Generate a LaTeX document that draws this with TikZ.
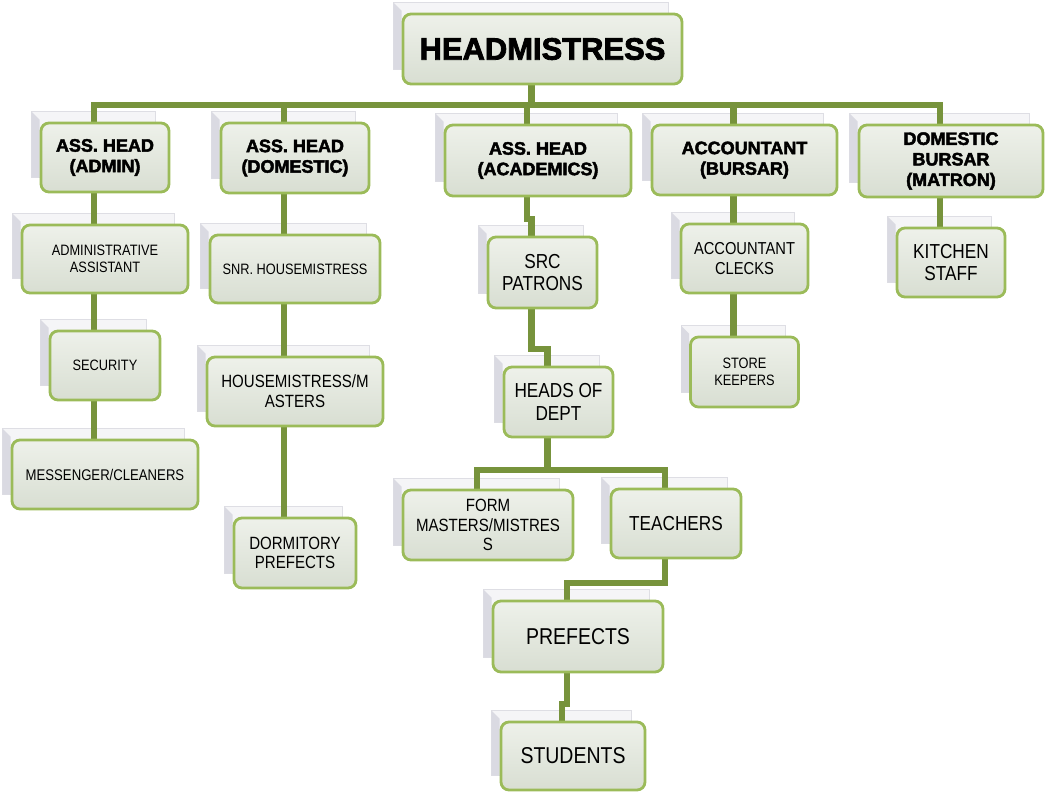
\documentclass[tikz,border=0pt]{standalone}
\usepackage{fontspec}
\setmainfont{Liberation Sans}
\newfontfamily\narrowfont[FakeStretch=0.85]{Liberation Sans}
\newfontfamily\heavyfont[FakeBold=2.5]{Liberation Sans Bold}
\usepackage{tikz}
\usetikzlibrary{calc,backgrounds}
\definecolor{linegreen}{HTML}{77933C}
\definecolor{boxgreen}{HTML}{9BBB59}
\definecolor{boxtop}{HTML}{EEF1EA}
\definecolor{boxbot}{HTML}{D8DED2}
\definecolor{sheetgray}{HTML}{F5F5F7}
\definecolor{sheetline}{HTML}{DEDEE4}
\definecolor{wedgegray}{HTML}{DADAE2}
\pgfdeclarelayer{back}
\pgfdeclarelayer{mid}
\pgfsetlayers{back,mid,main}
\tikzset{
  orgbox/.style={draw=boxgreen, line width=2pt, rounded corners=0.2cm,
    top color=boxtop, bottom color=boxbot, align=center, inner sep=2pt},
  wh/.style 2 args={minimum width=#1*0.025cm, minimum height=#2*0.025cm},
  link/.style={draw=linegreen, line width=4.3pt},
  off/.style={shift={(-11,0)}},
  topfont/.style={font=\heavyfont\fontsize{22}{25}\selectfont},
  hdr/.style={font=\heavyfont\fontsize{12.8}{14.6}\selectfont},
  szA/.style={font=\narrowfont\fontsize{10.7}{12.2}\selectfont},
  szB/.style={font=\narrowfont\fontsize{12.6}{14}\selectfont},
  szC/.style={font=\narrowfont\fontsize{14.4}{15.8}\selectfont},
  szD/.style={font=\narrowfont\fontsize{16.3}{18}\selectfont},
  sheet/.style={fill=sheetgray, draw=sheetline, line width=0.4pt},
  wedge/.style={fill=wedgegray}
}
\begin{document}
\begin{tikzpicture}[x=0.025cm, y=-0.025cm]
\useasboundingbox (0,0) rectangle (1047,791);

\node[orgbox, wh={279}{70}, topfont] (head) at (542.5,49) {HEADMISTRESS};

\node[orgbox, wh={128}{69}, hdr] (admin) at (105,157.5) {ASS. HEAD\\(ADMIN)};
\node[orgbox, wh={148}{70}, hdr] (dom) at (295,158) {ASS. HEAD\\(DOMESTIC)};
\node[orgbox, wh={186}{71}, hdr] (acad) at (538,160.5) {ASS. HEAD\\(ACADEMICS)};
\node[orgbox, wh={185}{70}, hdr] (bursar) at (744.5,160) {ACCOUNTANT\\(BURSAR)};
\node[orgbox, wh={184}{72}, hdr] (matron) at (951,161) {DOMESTIC\\BURSAR\\(MATRON)};

\node[orgbox, wh={166}{68}, szA] (asst) at (105,259) {ADMINISTRATIVE\\ASSISTANT};
\node[orgbox, wh={110}{69}, szA] (security) at (105,365.5) {SECURITY};
\node[orgbox, wh={186}{69}, font=\narrowfont\fontsize{11}{12.5}\selectfont] (mess) at (105,474.5) {MESSENGER/CLEANERS};

\node[orgbox, wh={170}{68}, szA] (snr) at (295,269) {SNR. HOUSEMISTRESS};
\node[orgbox, wh={176}{69}, szB] (house) at (295,391.5) {HOUSEMISTRESS/M\\ASTERS};
\node[orgbox, wh={122}{70}, szB] (dorm) at (295,553) {DORMITORY\\PREFECTS};

\node[orgbox, wh={109}{71}, szC] (src) at (542.5,272.5) {SRC\\PATRONS};
\node[orgbox, wh={109}{70}, szC] (hod) at (558.5,402) {HEADS OF\\DEPT};
\node[orgbox, wh={170}{70}, szB] (form) at (488,525) {FORM\\MASTERS/MISTRES\\S};
\node[orgbox, wh={130}{69}, szC] (teach) at (676,523.5) {TEACHERS};
\node[orgbox, wh={170}{71}, szD] (pref) at (578,636.5) {PREFECTS};
\node[orgbox, wh={144}{68}, szD] (stud) at (573,756) {STUDENTS};

\node[orgbox, wh={127}{69}, font=\narrowfont\fontsize{12.3}{13.8}\selectfont] (clerks) at (744.5,258.5) {ACCOUNTANT\\CLECKS};
\node[orgbox, wh={108}{70}, szA] (store) at (744.5,372) {STORE\\KEEPERS};
\node[orgbox, wh={108}{69}, szC] (kitchen) at (951,262.5) {KITCHEN\\STAFF};

% paper sheets behind the boxes
\begin{pgfonlayer}{back}
\foreach \n in {head,admin,dom,acad,bursar,matron,asst,security,mess,snr,house,dorm,src,hod,form,teach,pref,stud,clerks,store,kitchen}{
  \draw[sheet] ($(\n.north west)+(-8,-10)$) rectangle ($(\n.south east)+(-15,-16)$);
  \fill[wedge] ($(\n.north west)+(-8,-10)$) -- ($(\n.north west)+(0,-2)$)
    -- ($(\n.south west)+(0,-16)$) -- ($(\n.south west)+(-8,-16)$) -- cycle;
}
\end{pgfonlayer}

% connectors
\begin{pgfonlayer}{mid}
\draw[link] ([off]head.south) -- ++(0,20) coordinate (bus);
\foreach \n in {admin,dom,acad,bursar,matron}
  \draw[link] ([off]\n.north) |- (bus);
\draw[link] ([off]admin.south) -- ([off]asst.north);
\draw[link] ([off]asst.south) -- ([off]security.north);
\draw[link] ([off]security.south) -- ([off]mess.north);
\draw[link] ([off]dom.south) -- ([off]snr.north);
\draw[link] ([off]snr.south) -- ([off]house.north);
\draw[link] ([off]house.south) -- ([off]dorm.north);
\draw[link] ([off]acad.south) -- ++(0,22) -| ([off]src.north);
\draw[link] ([off]src.south) -- ++(0,40) -| ([off]hod.north);
\draw[link] ([off]hod.south) -- ++(0,32) coordinate (hodbus);
\draw[link] ([off]form.north) |- (hodbus);
\draw[link] ([off]teach.north) |- (hodbus);
\draw[link] ([off]teach.south) -- ++(0,24) -| ([off]pref.north);
\draw[link] ([off]pref.south) -- ++(0,31) -| ([off]stud.north);
\draw[link] ([off]bursar.south) -- ([off]clerks.north);
\draw[link] ([off]clerks.south) -- ([off]store.north);
\draw[link] ([off]matron.south) -- ([off]kitchen.north);
\end{pgfonlayer}
\end{tikzpicture}
\end{document}
